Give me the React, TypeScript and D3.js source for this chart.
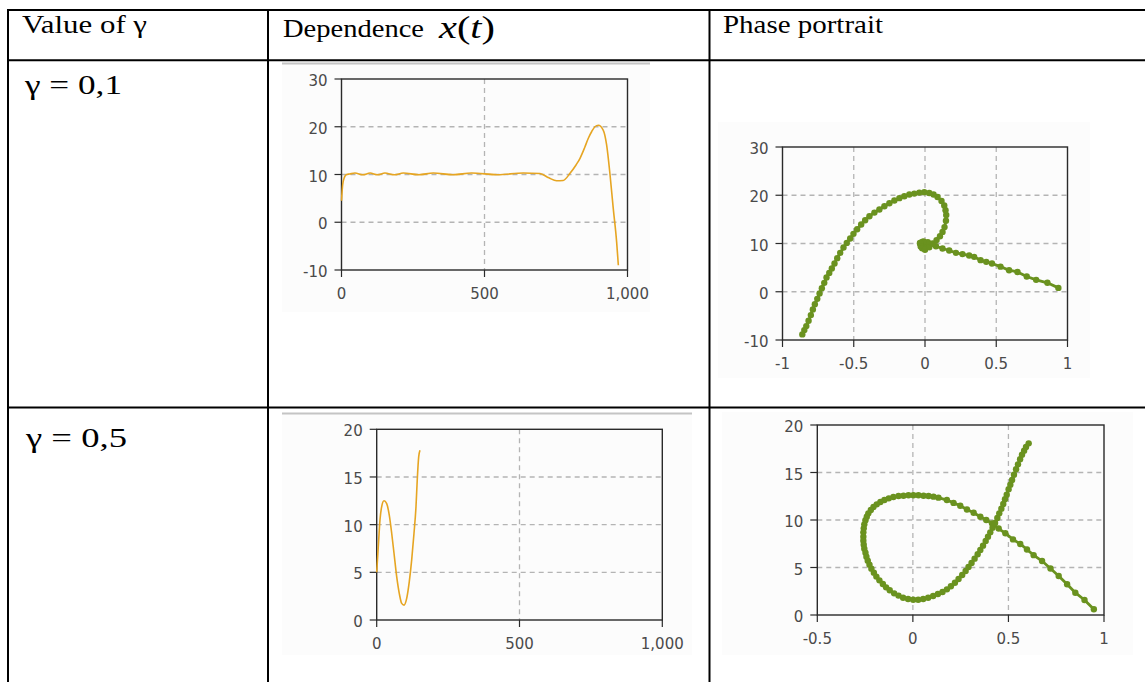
import * as d3 from "d3";

// table texts
const headerTexts = ["Value of γ", "Dependence", "Phase portrait"];
const gammaTexts = ["γ = 0,1", "γ = 0,5"];

// axis ticks
const timeTicks = [0, 500, 1000];
const timeTickLabels = ["0", "500", "1,000"];
const xTicksWide = [-10, 0, 10, 20, 30];
const xTicksNarrow = [0, 5, 10, 15, 20];
const vTicksWide = [-1, -0.5, 0, 0.5, 1];
const vTickLabelsWide = ["-1", "-0.5", "0", "0.5", "1"];
const vTicksNarrow = [-0.5, 0, 0.5, 1];
const vTickLabelsNarrow = ["-0.5", "0", "0.5", "1"];

// gamma = 0,1 : x(t)
const g1Time = [0, 4, 10, 18, 28, 47, 75, 100, 126, 152, 185, 216, 270, 321, 390, 455, 545, 636, 694, 725, 752, 775, 799, 820, 834, 850, 863, 875, 886, 898, 915, 927, 939, 950, 962, 968];
const g1X = [4.5, 7.8, 9.4, 10.0, 10.1, 10.3, 9.95, 10.3, 9.95, 10.3, 9.95, 10.3, 9.95, 10.3, 9.95, 10.3, 9.95, 10.3, 10.2, 9.3, 8.7, 8.75, 10.25, 12.0, 13.4, 15.6, 17.6, 19.0, 20.0, 20.3, 19.3, 16.2, 9.9, 3.0, -4.1, -9.0];

// gamma = 0,1 : phase portrait (velocity, x)
const g1PhaseV = [
  0.936, 0.859, 0.78, 0.714, 0.649, 0.59, 0.53, 0.47, 0.43, 0.39, 0.345, 0.31, 0.263, 0.217, 0.17, 0.123, 0.077, 0.03,
  0.01, -0.02, -0.035, -0.02, 0.01, 0.03, 0.02, -0.01, -0.035, -0.03, -0.02, 0.0, 0.03,
  0.053, 0.081, 0.105, 0.123, 0.137, 0.147, 0.149, 0.144, 0.135, 0.116, 0.088, 0.06, 0.03, -0.005, -0.04, -0.075,
  -0.11, -0.145, -0.18, -0.215, -0.25, -0.285, -0.32, -0.355, -0.39, -0.42, -0.448, -0.476, -0.502, -0.525, -0.549,
  -0.572, -0.595, -0.616, -0.635, -0.654, -0.672, -0.691, -0.707, -0.724, -0.74, -0.756, -0.773, -0.787, -0.801,
  -0.817, -0.833, -0.847, -0.861,
];
const g1PhaseX = [
  0.8, 1.85, 2.47, 3.16, 4.1, 4.47, 5.2, 5.86, 6.2, 6.55, 7.23, 7.5, 7.8, 8.06, 8.55, 8.96, 9.44, 9.76,
  10.1, 10.3, 10.0, 9.6, 9.5, 9.8, 10.25, 10.4, 10.1, 9.4, 9.0, 8.7, 9.2,
  10.0, 10.7, 11.5, 12.4, 13.4, 14.7, 15.9, 16.9, 17.9, 18.8, 19.65, 20.14, 20.48, 20.62, 20.55, 20.34,
  20.14, 19.8, 19.4, 18.9, 18.34, 17.72, 17.04, 16.4, 15.65, 14.82, 13.93, 12.96, 12.0, 11.03, 10.12,
  9.17, 8.05, 6.96, 5.86, 4.82, 3.91, 2.96, 1.84, 0.75, -0.35, -1.47, -2.57, -3.66, -4.84,
  -6.02, -7.12, -7.95, -8.84,
];

// gamma = 0,5 : x(t)
const g2Time = [0, 7, 11.5, 17.5, 25.6, 35, 44, 52.5, 60.6, 70, 79, 87.5, 95.6, 105, 114, 122.5, 130.6, 137.6, 142, 147, 151.6];
const g2X = [5.0, 8.4, 10.5, 11.9, 12.5, 12.2, 11.0, 9.1, 7.0, 4.55, 2.8, 1.74, 1.56, 2.27, 4.0, 6.3, 9.1, 11.9, 14.7, 17.1, 17.8];

// gamma = 0,5 : phase portrait (velocity, x)
const g2PhaseV = [
  0.947, 0.898, 0.85, 0.807, 0.763, 0.72, 0.676, 0.632, 0.597, 0.562, 0.524, 0.484, 0.449, 0.414, 0.384, 0.353, 0.318, 0.283, 0.248, 0.213, 0.178,
  0.134, 0.108, 0.082, 0.056, 0.029, 0.003, -0.023, -0.049, -0.075, -0.102, -0.126, -0.149, -0.17, -0.189, -0.206, -0.22,
  -0.233, -0.241, -0.248, -0.254, -0.257, -0.259, -0.259, -0.259, -0.257, -0.254, -0.248, -0.243, -0.236, -0.227, -0.217,
  -0.204, -0.191, -0.175, -0.157, -0.14, -0.121, -0.098, -0.075, -0.051, -0.025, 0.002, 0.028, 0.054, 0.08, 0.106,
  0.131, 0.155, 0.178, 0.199, 0.22, 0.239, 0.258, 0.276, 0.291, 0.307, 0.323, 0.339, 0.353, 0.367, 0.381, 0.393,
  0.405, 0.417, 0.43, 0.442, 0.452, 0.463, 0.473, 0.482, 0.491, 0.501, 0.51, 0.519, 0.529, 0.54, 0.55, 0.561, 0.571,
  0.582, 0.592, 0.606,
];
const g2PhaseX = [
  0.6, 1.58, 2.35, 3.23, 4.1, 4.9, 5.68, 6.3, 6.9, 7.47, 7.96, 8.6, 9.1, 9.65, 10.0, 10.35, 10.77, 11.1, 11.5, 11.8, 12.1,
  12.35, 12.46, 12.53, 12.56, 12.6, 12.6, 12.6, 12.56, 12.53, 12.42, 12.28, 12.11, 11.9, 11.65, 11.37, 11.05,
  10.7, 10.35, 9.97, 9.54, 9.12, 8.7, 8.25, 7.82, 7.4, 6.98, 6.56, 6.14, 5.72, 5.3, 4.88,
  4.46, 4.04, 3.65, 3.26, 2.91, 2.6, 2.28, 2.04, 1.82, 1.68, 1.61, 1.61, 1.68, 1.82, 2.0,
  2.21, 2.42, 2.7, 3.02, 3.4, 3.79, 4.21, 4.63, 5.05, 5.47, 5.93, 6.39, 6.84, 7.3, 7.79, 8.25,
  8.7, 9.19, 9.68, 10.21, 10.7, 11.19, 11.68, 12.18, 12.66, 13.23, 13.72, 14.21, 14.77, 15.34, 15.86,
  16.39, 16.87, 17.3, 17.68, 18.07,
];

const ORANGE = "#e6a522";
const GREEN = "#6a921f";
const TICK_FONT = "'DejaVu Sans', Verdana, sans-serif";
const SERIF = "'Liberation Serif', 'Times New Roman', serif";

type Box = { left: number; right: number; top: number; bottom: number };

function Plot(props: {
  frame: Box;
  panel: Box;
  topLine?: boolean;
  xDomain: [number, number];
  yDomain: [number, number];
  xTicks: number[];
  xLabels: string[];
  yTicks: number[];
  xs: number[];
  ys: number[];
  phase?: boolean;
}) {
  const { frame, panel, topLine, xDomain, yDomain, xTicks, xLabels, yTicks, xs, ys, phase } = props;
  const x = d3.scaleLinear().domain(xDomain).range([frame.left, frame.right]);
  const y = d3.scaleLinear().domain(yDomain).range([frame.bottom, frame.top]);
  const pts: [number, number][] = xs.map((v, i) => [x(v), y(ys[i])]);
  const line = d3
    .line()
    .curve(phase ? d3.curveLinear : d3.curveMonotoneX)(pts) as string;

  const innerX = xTicks.filter(t => t !== xDomain[0] && t !== xDomain[1]);
  const innerY = yTicks.filter(t => t !== yDomain[0] && t !== yDomain[1]);

  return (
    <g>
      <rect
        x={panel.left}
        y={panel.top}
        width={panel.right - panel.left}
        height={panel.bottom - panel.top}
        fill="#fcfcfc"
      />
      {topLine && (
        <line x1={panel.left} x2={panel.right} y1={panel.top - 0.5} y2={panel.top - 0.5} stroke="#c4c4c4" strokeWidth={2} />
      )}
      {innerX.map(t => (
        <line key={"gx" + t} x1={x(t)} x2={x(t)} y1={frame.top} y2={frame.bottom} stroke="#b4b4b4" strokeWidth={1.3} strokeDasharray="5,4" />
      ))}
      {innerY.map(t => (
        <line key={"gy" + t} x1={frame.left} x2={frame.right} y1={y(t)} y2={y(t)} stroke="#b4b4b4" strokeWidth={1.3} strokeDasharray="5,4" />
      ))}
      <rect
        x={frame.left}
        y={frame.top}
        width={frame.right - frame.left}
        height={frame.bottom - frame.top}
        fill="none"
        stroke="#2a2a2a"
        strokeWidth={1.4}
      />
      {yTicks.map(t => (
        <g key={"ty" + t}>
          <line x1={frame.left - 7} x2={frame.left} y1={y(t)} y2={y(t)} stroke="#2a2a2a" strokeWidth={1.2} />
          <text x={frame.left - 14} y={y(t) + 7} textAnchor="end" fontFamily={TICK_FONT} fontSize={15} fill="#4a4a4a">
            {String(t)}
          </text>
        </g>
      ))}
      {xTicks.map((t, i) => (
        <g key={"tx" + t}>
          <line x1={x(t)} x2={x(t)} y1={frame.bottom} y2={frame.bottom + 7} stroke="#2a2a2a" strokeWidth={1.2} />
          <text x={x(t)} y={frame.bottom + 29} textAnchor="middle" fontFamily={TICK_FONT} fontSize={15} fill="#4a4a4a">
            {xLabels[i]}
          </text>
        </g>
      ))}
      {phase ? (
        <g>
          <path d={line} fill="none" stroke={GREEN} strokeWidth={2.8} strokeLinejoin="round" />
          {pts.map((p, i) => (
            <circle key={i} cx={p[0]} cy={p[1]} r={3.2} fill={GREEN} />
          ))}
        </g>
      ) : (
        <path d={line} fill="none" stroke={ORANGE} strokeWidth={1.6} strokeLinejoin="round" />
      )}
    </g>
  );
}

export default function App() {
  const W = 1145;
  const H = 682;
  return (
    <svg width={W} height={H} style={{ position: "absolute", left: 0, top: 0, display: "block", background: "#fff" }}>
      <rect x={0} y={0} width={W} height={H} fill="#fff" />

      <Plot
        frame={{ left: 341.5, right: 627.5, top: 79, bottom: 270 }}
        panel={{ left: 282, right: 650, top: 64, bottom: 312 }}
        topLine
        xDomain={[0, 1000]}
        yDomain={[-10, 30]}
        xTicks={timeTicks}
        xLabels={timeTickLabels}
        yTicks={xTicksWide}
        xs={g1Time}
        ys={g1X}
      />
      <Plot
        frame={{ left: 782.5, right: 1067.5, top: 147, bottom: 340 }}
        panel={{ left: 718, right: 1090, top: 122, bottom: 378 }}
        xDomain={[-1, 1]}
        yDomain={[-10, 30]}
        xTicks={vTicksWide}
        xLabels={vTickLabelsWide}
        yTicks={xTicksWide}
        xs={g1PhaseV}
        ys={g1PhaseX}
        phase
      />
      <Plot
        frame={{ left: 376.7, right: 662.3, top: 429.3, bottom: 620 }}
        panel={{ left: 282, right: 692, top: 414, bottom: 655 }}
        topLine
        xDomain={[0, 1000]}
        yDomain={[0, 20]}
        xTicks={timeTicks}
        xLabels={timeTickLabels}
        yTicks={xTicksNarrow}
        xs={g2Time}
        ys={g2X}
      />
      <Plot
        frame={{ left: 817.3, right: 1104, top: 425, bottom: 615 }}
        panel={{ left: 722, right: 1133, top: 412, bottom: 655 }}
        xDomain={[-0.5, 1]}
        yDomain={[0, 20]}
        xTicks={vTicksNarrow}
        xLabels={vTickLabelsNarrow}
        yTicks={xTicksNarrow}
        xs={g2PhaseV}
        ys={g2PhaseX}
        phase
      />

      {/* table grid */}
      <g stroke="#000" strokeWidth={2}>
        <line x1={7} x2={W} y1={10} y2={10} />
        <line x1={7} x2={W} y1={60.3} y2={60.3} />
        <line x1={7} x2={W} y1={407.5} y2={407.5} />
        <line x1={8} x2={8} y1={9} y2={H} />
        <line x1={268} x2={268} y1={9} y2={H} />
        <line x1={709.5} x2={709.5} y1={9} y2={H} />
      </g>

      {/* header row and gamma values */}
      <g fontFamily={SERIF} fill="#000">
        <text x={22} y={32.5} fontSize={25} textLength={125} lengthAdjust="spacingAndGlyphs">
          {headerTexts[0]}
        </text>
        <text x={283} y={37} fontSize={25} textLength={141} lengthAdjust="spacingAndGlyphs">
          {headerTexts[1]}
        </text>
        <text x={439} y={38} fontSize={31} textLength={56} lengthAdjust="spacingAndGlyphs">
          <tspan fontStyle="italic">x</tspan>(<tspan fontStyle="italic">t</tspan>)
        </text>
        <text x={723} y={32.5} fontSize={25} textLength={160} lengthAdjust="spacingAndGlyphs">
          {headerTexts[2]}
        </text>
        <text x={25} y={93.5} fontSize={28} textLength={97} lengthAdjust="spacingAndGlyphs">
          {gammaTexts[0]}
        </text>
        <text x={26} y={446.7} fontSize={28} textLength={101} lengthAdjust="spacingAndGlyphs">
          {gammaTexts[1]}
        </text>
      </g>
    </svg>
  );
}
